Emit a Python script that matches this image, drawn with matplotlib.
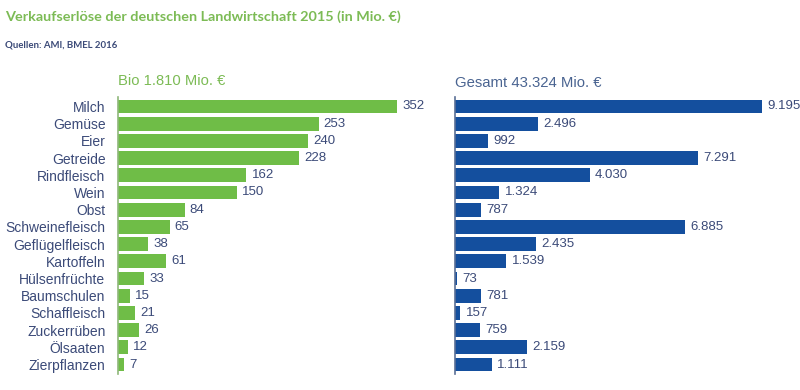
import matplotlib
matplotlib.use("Agg")
import matplotlib.pyplot as plt

categories = ["Milch", "Gemüse", "Eier", "Getreide", "Rindfleisch", "Wein", "Obst",
              "Schweinefleisch", "Geflügelfleisch", "Kartoffeln", "Hülsenfrüchte",
              "Baumschulen", "Schaffleisch", "Zuckerrüben", "Ölsaaten", "Zierpflanzen"]
bio_values = [352, 253, 240, 228, 162, 150, 84, 65, 38, 61, 33, 15, 21, 26, 12, 7]
total_values = [9195, 2496, 992, 7291, 4030, 1324, 787, 6885, 2435, 1539, 73, 781, 157, 759, 2159, 1111]
bio_labels = [str(v) for v in bio_values]
total_labels = ["9.195", "2.496", "992", "7.291", "4.030", "1.324", "787", "6.885",
                "2.435", "1.539", "73", "781", "157", "759", "2.159", "1.111"]

title = "Verkaufserlöse der deutschen Landwirtschaft 2015 (in Mio. €)"
source = "Quellen: AMI, BMEL 2016"
bio_head = "Bio 1.810 Mio. €"
total_head = "Gesamt 43.324 Mio. €"

GREEN = "#6fbd47"
BLUE = "#144f9e"
TEXT = "#3b4a78"
TITLE_GREEN = "#7cbb55"

plt.rcParams["font.family"] = ["Liberation Sans", "DejaVu Sans"]

W, H = 800, 390
fig = plt.figure(figsize=(W / 100, H / 100), dpi=100)

def ax_rect(x0, x1, y0, y1):
    return [x0 / W, 1 - y1 / H, (x1 - x0) / W, (y1 - y0) / H]

y = list(range(len(categories)))
ax1 = fig.add_axes(ax_rect(118, 418, 97, 374))
ax2 = fig.add_axes(ax_rect(455, 785, 97, 374))

for ax, vals, labs, col, xmax, spcol in [
    (ax1, bio_values, bio_labels, GREEN, 300 / (279 / 352), "#8fb87a"),
    (ax2, total_values, total_labels, BLUE, 330 / (307 / 9195), "#5a6f96"),
]:
    ax.barh(y, vals, height=0.8, color=col)
    ax.set_xlim(0, xmax)
    ax.set_ylim(15.55, -0.55)
    for s in ["top", "right", "bottom"]:
        ax.spines[s].set_visible(False)
    ax.spines["left"].set_color(spcol)
    ax.spines["left"].set_linewidth(1.2)
    ax.set_xticks([])
    ax.tick_params(axis="y", length=0, pad=9)
    for yi, v, l in zip(y, vals, labs):
        ax.annotate(l, (v, yi), xytext=(3.8, 0), textcoords="offset points",
                    va="center", ha="left", fontsize=9.5, color=TEXT)

ax1.set_yticks(y)
ax1.set_yticklabels(categories, fontsize=10, color=TEXT)
ax2.set_yticks([])

fig.text(5 / W, 1 - 17 / H, title, fontsize=10.4, fontweight="bold", color=TITLE_GREEN,
         va="center", ha="left", family=["Lato", "DejaVu Sans"])
fig.text(5 / W, 1 - 45 / H, source, fontsize=6.9, fontweight="bold", color=TEXT,
         va="center", ha="left", family=["Lato", "DejaVu Sans"])
fig.text(118 / W, 1 - 81 / H, bio_head, fontsize=10.6, color=TITLE_GREEN, va="center", ha="left")
fig.text(455 / W, 1 - 83 / H, total_head, fontsize=10.7, color="#4a6491", va="center", ha="left")

fig.savefig("out.png", dpi=100)
